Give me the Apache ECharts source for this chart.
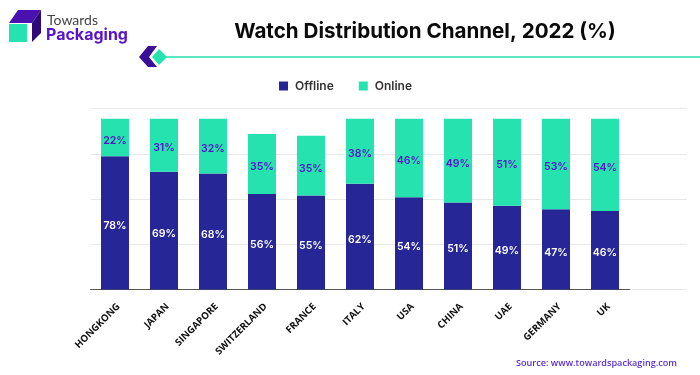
<!DOCTYPE html>
<html>
<head>
<meta charset="utf-8">
<style>
  html, body { margin: 0; padding: 0; background: #fff; }
  #chart { width: 700px; height: 375px; }
</style>
<script src="https://cdn.jsdelivr.net/npm/echarts@6/dist/echarts.min.js"></script>
</head>
<body>
<div id="chart"></div>
<script>
const categories = ['HONGKONG', 'JAPAN', 'SINGAPORE', 'SWITZERLAND', 'FRANCE', 'ITALY', 'USA', 'CHINA', 'UAE', 'GERMANY', 'UK'];
const offline = [78, 69, 68, 56, 55, 62, 54, 51, 49, 47, 46];
const online = [22, 31, 32, 35, 35, 38, 46, 49, 51, 53, 54];

const NAVY = '#262696';
const TEAL = '#25E2AE';
const PURPLE = '#5A12C8';

const chart = echarts.init(document.getElementById('chart'), null, { renderer: 'canvas' });

chart.setOption({
    animation: false,
    backgroundColor: '#fff',
    title: {
        text: 'Watch Distribution Channel, 2022 (%)',
        left: 420, top: 16, textAlign: 'center',
        textStyle: { fontFamily: 'Inter', fontSize: 20.6, fontWeight: 700, color: '#0a0a0a' }
    },
    legend: {
        data: ['Offline', 'Online'],
        left: 274, top: 75,
        itemWidth: 9, itemHeight: 9, itemGap: 25, icon: 'rect',
        textStyle: { fontFamily: 'Inter', fontSize: 12, fontWeight: 600, color: '#333', padding: [0, 0, 0, 2] }
    },
    // the wider grid only carries the light gridlines, which run past the bars
    grid: [
        { left: 90.5, right: 70.5, top: 108.5, bottom: 85.5 },
        { left: 90.5, right: 13, top: 108.5, bottom: 85.5 }
    ],
    xAxis: [
        {
            type: 'category', data: categories, gridIndex: 0,
            axisTick: { show: false },
            axisLine: { lineStyle: { color: '#555', width: 1 } },
            axisLabel: {
                rotate: 45, interval: 0, margin: 12, verticalAlign: 'top',
                fontFamily: 'Open Sans', fontSize: 9.7, fontWeight: 700, color: '#111'
            }
        },
        {
            type: 'category', data: [], gridIndex: 1,
            axisTick: { show: false }, axisLabel: { show: false },
            axisLine: { show: false }
        }
    ],
    yAxis: [
        {
            type: 'value', gridIndex: 0, min: 0, max: 106, interval: 26.5,
            axisLabel: { show: false }, axisLine: { show: false }, axisTick: { show: false },
            splitLine: { show: false }
        },
        {
            type: 'value', gridIndex: 1, min: 0, max: 106, interval: 26.5,
            axisLabel: { show: false }, axisLine: { show: false }, axisTick: { show: false },
            splitLine: { lineStyle: { color: '#e8e8e8', width: 1 } }
        }
    ],
    series: [
        {
            name: 'Offline', type: 'bar', stack: 'total', data: offline, barWidth: 28,
            xAxisIndex: 0, yAxisIndex: 0,
            itemStyle: { color: NAVY },
            label: {
                show: true, position: 'inside', offset: [0, 3], formatter: '{c}%',
                fontFamily: 'Inter', fontSize: 10.5, fontWeight: 600, color: '#fff'
            }
        },
        {
            name: 'Online', type: 'bar', stack: 'total', data: online, barWidth: 28,
            xAxisIndex: 0, yAxisIndex: 0,
            itemStyle: { color: TEAL },
            label: {
                show: true, position: 'inside', offset: [0, 3], formatter: '{c}%',
                fontFamily: 'Inter', fontSize: 10.5, fontWeight: 600, color: PURPLE
            }
        }
    ],
    graphic: [
        // logo
        { type: 'polygon', shape: { points: [[9, 23], [18, 10], [41, 10], [32, 23]] }, style: { fill: '#4A10B0' } },
        { type: 'polygon', shape: { points: [[32, 23], [41, 10], [41, 33], [32, 42]] }, style: { fill: '#2E0A78' } },
        { type: 'rect', shape: { x: 9, y: 24, width: 18, height: 18 }, style: { fill: TEAL } },
        { type: 'text', left: 47, top: 13, style: { text: 'Towards', fontFamily: 'Lato', fontSize: 14, fill: '#444' } },
        { type: 'text', left: 46, top: 27, style: { text: 'Packaging', fontFamily: 'Inter', fontSize: 16, fontWeight: 700, fill: '#5A12C8' } },
        // title rule
        { type: 'line', shape: { x1: 165, y1: 57, x2: 700, y2: 57 }, style: { stroke: TEAL, lineWidth: 1.5 } },
        { type: 'polygon', shape: { points: [[139, 57], [148, 46], [157, 46], [149, 57], [157, 67], [148, 67]] }, style: { fill: '#3A0E96' } },
        { type: 'polygon', shape: { points: [[152, 57], [159, 49], [167, 57], [159, 65]] }, style: { fill: TEAL } },
        // source
        { type: 'text', right: 23, top: 358.5, style: { text: 'Source: www.towardspackaging.com', fontFamily: 'Open Sans', fontSize: 9.1, fontWeight: 600, fill: '#5A2FD0' } }
    ]
});
</script>
</body>
</html>
